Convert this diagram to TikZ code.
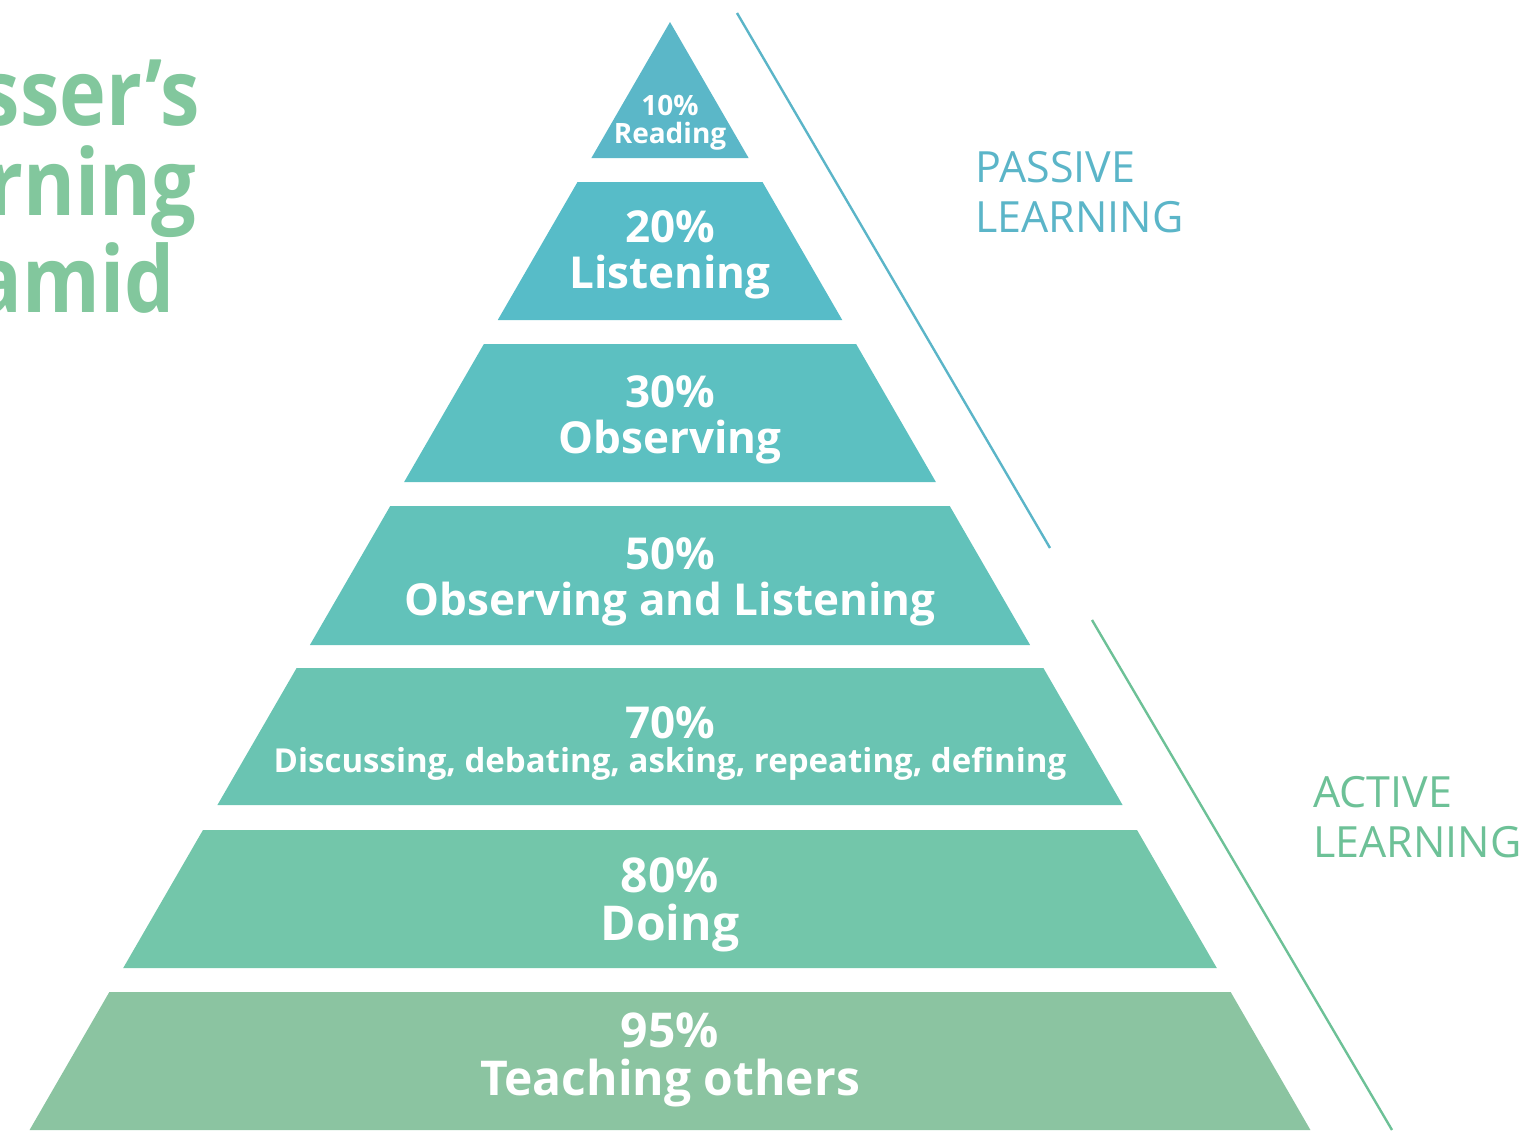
\documentclass[tikz,border=0pt]{standalone}
\usepackage{fontspec}
\setmainfont{Open Sans}
\newfontfamily\narrowfont[FakeStretch=0.86]{Open Sans}
\usetikzlibrary{calc}

\definecolor{readC}{HTML}{5BB7C8}
\definecolor{listenC}{HTML}{57BCC8}
\definecolor{observeC}{HTML}{5CC0C1}
\definecolor{obslistC}{HTML}{62C2BA}
\definecolor{discussC}{HTML}{6AC4B2}
\definecolor{doC}{HTML}{73C6AA}
\definecolor{teachC}{HTML}{8BC4A1}
\definecolor{passiveC}{HTML}{5BB5C8}
\definecolor{activeC}{HTML}{6DC197}
\definecolor{titleC}{HTML}{82C79D}

\begin{document}
\begin{tikzpicture}[
x=0.5pt, y=-0.5pt,
layer/.style={text=white, inner sep=0pt, align=center, font=\bfseries\fontsize{22}{23}\selectfont},
biglayer/.style={layer, font=\bfseries\fontsize{24}{24}\selectfont},
toplayer/.style={layer, font=\bfseries\fontsize{14}{14}\selectfont},
title/.style={text=titleC, inner sep=0pt, anchor=base east, font=\narrowfont\bfseries\fontsize{46}{47}\selectfont},
side/.style={inner sep=0pt, anchor=north west, align=left, font=\fontsize{21.5}{25}\selectfont},
edge/.style={line width=1.2pt}
]
\useasboundingbox (0,0) rectangle (1524,1130);
\clip (0,0) rectangle (1524,1130);

% pyramid: apex at (670,22), half width grows 0.578 per unit of height
\fill[readC] (670,22) -- ({670+0.578*136},158) -- ({670-0.578*136},158) -- cycle;
\foreach \ytop/\ybot/\col in {182/320/listenC, 344/482/observeC, 506/645/obslistC,
  668/805/discussC, 830/968/doC, 992/1130/teachC}{
  \fill[\col] ({670-0.578*(\ytop-22)},\ytop) -- ({670+0.578*(\ytop-22)},\ytop)
    -- ({670+0.578*(\ybot-22)},\ybot) -- ({670-0.578*(\ybot-22)},\ybot) -- cycle;
}

\node[toplayer] (read) at (670,123) {10\%\\Reading};
\node[layer] (listen) at (670,255) {20\%\\Listening};
\node[layer] (observe) at (670,420) {30\%\\Observing};
\node[layer] (obslisten) at (670,582) {50\%\\Observing and Listening};
\node[layer] (discuss) at (670,743) {70\%\\[-6pt]{\fontsize{16.5}{17}\selectfont Discussing, debating, asking, repeating, defining}};
\node[biglayer] (doing) at (670,905) {80\%\\Doing};
\node[biglayer] (teach) at (670,1060) {95\%\\Teaching others};

% title, cut at the left edge
\node[title] (title1) at (200,125) {Glasser’s};
\node[title] (title2) at (197,215) {Learning};
\node[title] (title3) at (175,312) {Pyramid};

% passive / active brackets
\coordinate (passtop) at (737,13);
\coordinate (passbot) at (1050,548);
\coordinate (acttop) at (1092,620);
\coordinate (actbot) at (1392,1130);
\draw[edge, passiveC] (passtop) -- (passbot);
\draw[edge, activeC] (acttop) -- (actbot);

\node[side, text=passiveC] (passive) at (975,151) {PASSIVE\\LEARNING};
\node[side, text=activeC] (active) at (1313,776) {ACTIVE\\LEARNING};
\end{tikzpicture}
\end{document}
